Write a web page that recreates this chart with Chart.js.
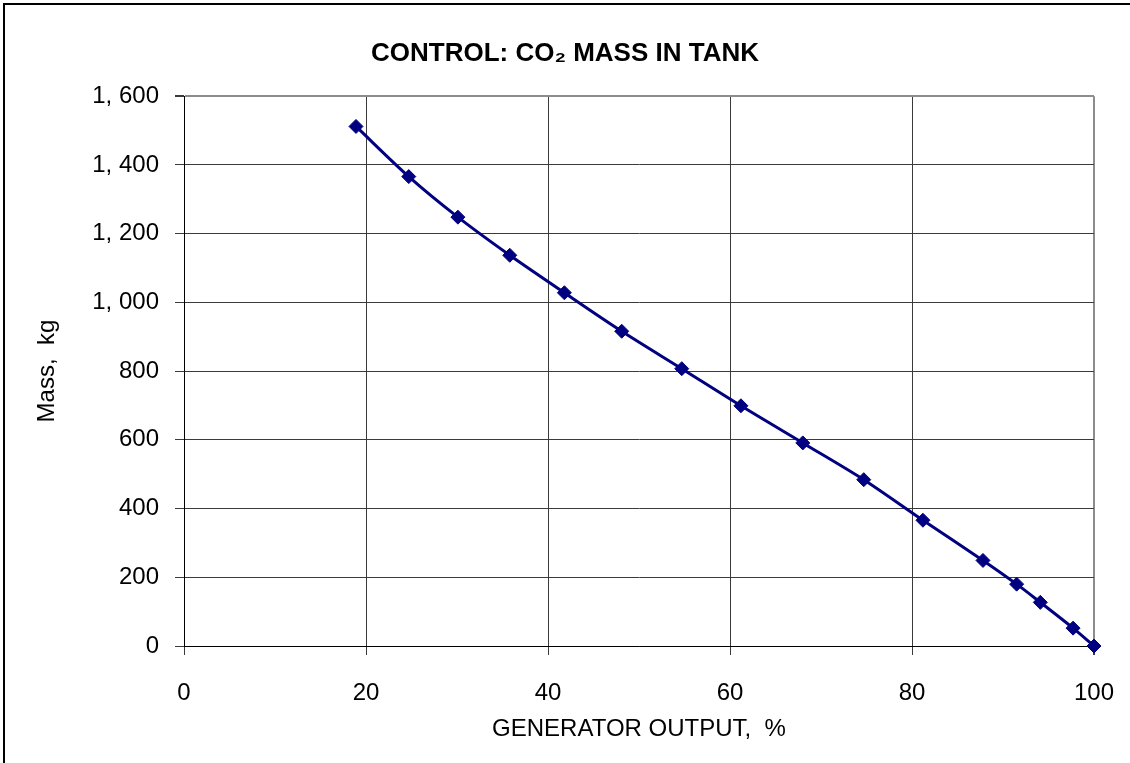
<!DOCTYPE html>
<html>
<head>
<meta charset="utf-8">
<title>CO2 mass in tank</title>
<script src="https://cdn.jsdelivr.net/npm/chart.js@4.4.1/dist/chart.umd.min.js"></script>
<style>
  html, body { margin: 0; padding: 0; background: #fff; }
  #wrap { width: 1130px; height: 763px; position: relative; }
</style>
</head>
<body>
<div id="wrap"><canvas id="chart"></canvas></div>
<script>
// generator output (%) vs CO2 mass left in the tank (kg)
const outputPct = [18.9, 24.7, 30.1, 35.8, 41.8, 48.1, 54.7, 61.2, 68.0, 74.7, 81.2, 87.8, 91.5, 94.1, 97.7, 100];
const massKg = [1512, 1366, 1248, 1137, 1028, 916, 807, 699, 591, 484, 366, 249, 180, 127, 52, 0];

const xTicks = [0, 20, 40, 60, 80, 100];
const yTicks = [0, 200, 400, 600, 800, 1000, 1200, 1400, 1600];

const FONT = "'Liberation Sans', Arial, sans-serif";
const NAVY = '#000080';

// thousands shown as "1, 600"
function fmtMass(v) {
  const s = String(v);
  return s.length > 3 ? s.slice(0, -3) + ', ' + s.slice(-3) : s;
}

// outer frame line along the top and left edge
const framePlugin = {
  id: 'frame',
  afterDraw(chart) {
    const ctx = chart.ctx;
    ctx.save();
    ctx.strokeStyle = '#000';
    ctx.lineWidth = 2;
    ctx.beginPath();
    ctx.moveTo(4, chart.height);
    ctx.lineTo(4, 4);
    ctx.lineTo(chart.width, 4);
    ctx.stroke();
    ctx.restore();
  }
};

const points = outputPct.map((x, i) => ({ x: x, y: massKg[i] }));

new Chart(document.getElementById('chart'), {
  type: 'line',
  data: {
    datasets: [{
      data: points,
      borderColor: NAVY,
      backgroundColor: NAVY,
      borderWidth: 3,
      tension: 0.3,
      pointStyle: 'rectRot',
      pointRadius: 7,
      pointBorderWidth: 1,
      pointBorderColor: NAVY,
      clip: false
    }]
  },
  options: {
    responsive: true,
    maintainAspectRatio: false,
    animation: false,
    layout: { padding: 0 },
    plugins: {
      legend: { display: false },
      tooltip: { enabled: false },
      title: {
        display: true,
        text: 'CONTROL: CO₂ MASS IN TANK',
        color: '#000',
        font: { family: FONT, size: 26, weight: 'bold' },
        padding: { top: 38, bottom: 27 }
      }
    },
    scales: {
      x: {
        type: 'linear',
        min: 0,
        max: 100,
        afterBuildTicks(scale) { scale.ticks = xTicks.map(v => ({ value: v })); },
        afterFit(scale) {
          scale.height = 117;
          scale.paddingLeft = 0;
          scale.paddingRight = 36;
        },
        ticks: {
          color: '#000',
          font: { family: FONT, size: 24 },
          padding: 24,
          maxRotation: 0
        },
        grid: {
          color: ctx => ctx.tick && ctx.tick.value === 100 ? '#8c8c8c' : '#3a3a3a',
          lineWidth: ctx => ctx.tick && ctx.tick.value === 100 ? 2 : 1,
          tickLength: 9,
          tickColor: '#3a3a3a'
        },
        border: { color: '#000', width: 1 },
        title: {
          display: true,
          text: 'GENERATOR OUTPUT,  %',
          color: '#000',
          font: { family: FONT, size: 24 },
          padding: { top: 0, bottom: 19 }
        }
      },
      y: {
        type: 'linear',
        min: 0,
        max: 1600,
        afterBuildTicks(scale) { scale.ticks = yTicks.map(v => ({ value: v })); },
        afterFit(scale) {
          scale.width = 184;
          scale.paddingTop = 0;
          scale.paddingBottom = 0;
        },
        ticks: {
          color: '#000',
          font: { family: FONT, size: 24 },
          padding: 16,
          callback: v => fmtMass(v)
        },
        grid: {
          color: ctx => ctx.tick && ctx.tick.value === 1600 ? '#8c8c8c' : '#3a3a3a',
          lineWidth: ctx => ctx.tick && ctx.tick.value === 1600 ? 2 : 1,
          tickLength: 9,
          tickColor: '#3a3a3a'
        },
        border: { color: '#000', width: 1 },
        title: {
          display: true,
          text: 'Mass,  kg',
          color: '#000',
          font: { family: FONT, size: 24 },
          padding: { top: 33, bottom: 0 }
        }
      }
    }
  },
  plugins: [framePlugin]
});
</script>
</body>
</html>
